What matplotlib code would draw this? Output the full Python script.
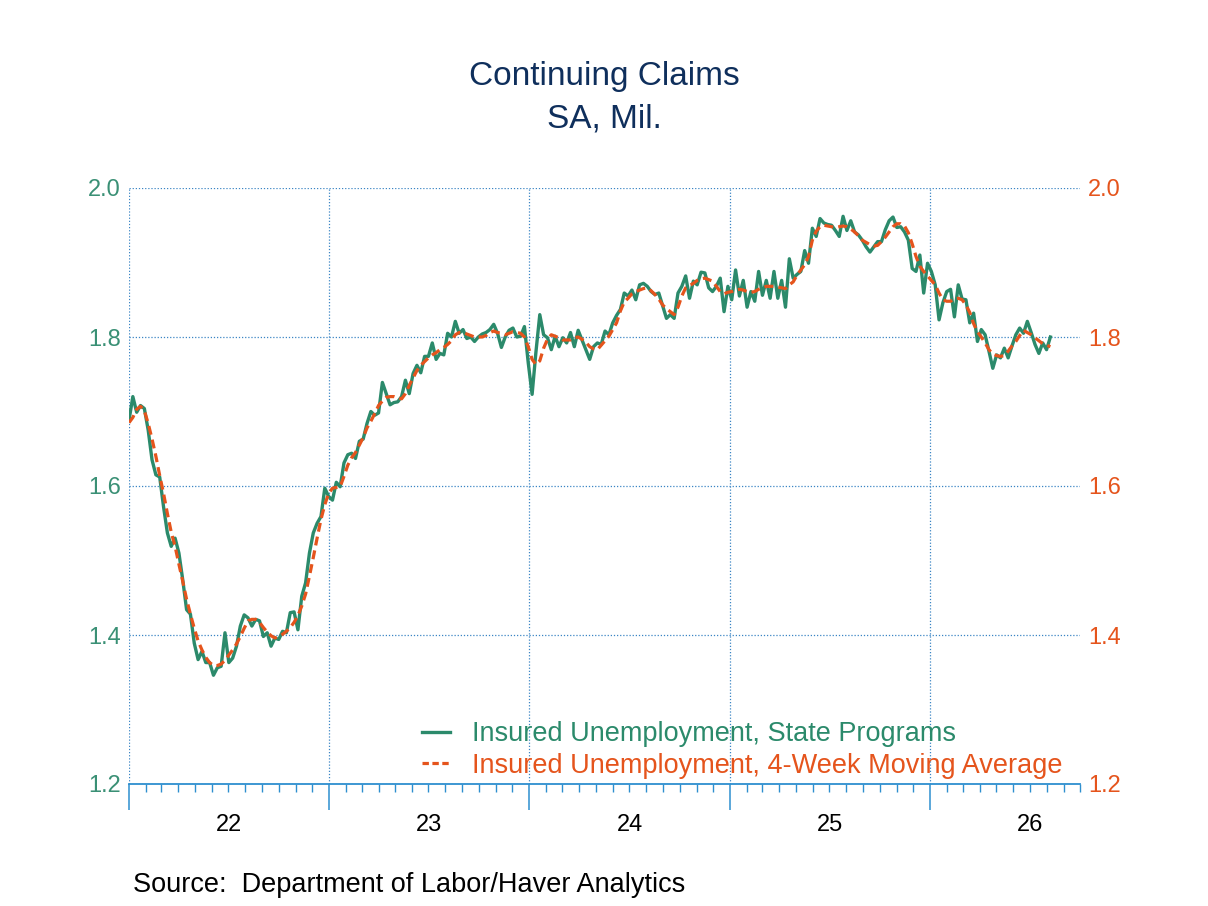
import matplotlib
matplotlib.use("Agg")
import matplotlib.pyplot as plt
import matplotlib.dates as mdates
from matplotlib.lines import Line2D
import pandas as pd

plt.rcParams["font.family"] = ["Liberation Sans", "DejaVu Sans"]

# weekly continuing claims, mil.
claims = [
    1.688, 1.720, 1.699, 1.708, 1.704, 1.675, 1.635, 1.615, 1.612, 1.572,
    1.537, 1.519, 1.530, 1.510, 1.474, 1.434, 1.428, 1.389, 1.367, 1.378,
    1.363, 1.363, 1.346, 1.356, 1.358, 1.403, 1.363, 1.369, 1.385, 1.412,
    1.427, 1.423, 1.412, 1.421, 1.419, 1.398, 1.403, 1.385, 1.396, 1.394,
    1.405, 1.403, 1.430, 1.431, 1.407, 1.452, 1.470, 1.510, 1.537, 1.550,
    1.559, 1.597, 1.586, 1.581, 1.605, 1.599, 1.631, 1.642, 1.644, 1.637,
    1.660, 1.663, 1.684, 1.700, 1.695, 1.698, 1.739, 1.724, 1.709, 1.712,
    1.713, 1.720, 1.742, 1.724, 1.751, 1.762, 1.752, 1.774, 1.774, 1.792,
    1.770, 1.778, 1.776, 1.805, 1.800, 1.821, 1.805, 1.810, 1.798, 1.800,
    1.794, 1.800, 1.804, 1.806, 1.810, 1.817, 1.805, 1.786, 1.800, 1.809,
    1.812, 1.800, 1.801, 1.814, 1.765, 1.723, 1.780, 1.830, 1.803, 1.799,
    1.783, 1.801, 1.787, 1.799, 1.792, 1.806, 1.787, 1.809, 1.796, 1.783,
    1.770, 1.787, 1.792, 1.790, 1.808, 1.803, 1.819, 1.829, 1.837, 1.859,
    1.855, 1.863, 1.850, 1.870, 1.872, 1.868, 1.861, 1.857, 1.859, 1.842,
    1.825, 1.830, 1.825, 1.859, 1.868, 1.882, 1.852, 1.875, 1.870, 1.887,
    1.886, 1.866, 1.861, 1.868, 1.879, 1.834, 1.868, 1.850, 1.890, 1.855,
    1.876, 1.840, 1.861, 1.848, 1.888, 1.856, 1.876, 1.852, 1.888, 1.852,
    1.876, 1.840, 1.905, 1.879, 1.884, 1.888, 1.916, 1.899, 1.946, 1.935,
    1.959, 1.953, 1.951, 1.950, 1.943, 1.935, 1.962, 1.943, 1.956, 1.941,
    1.937, 1.930, 1.921, 1.914, 1.921, 1.928, 1.928, 1.944, 1.956, 1.961,
    1.947, 1.948, 1.941, 1.930, 1.892, 1.888, 1.910, 1.859, 1.899, 1.888,
    1.870, 1.823, 1.846, 1.861, 1.864, 1.827, 1.870, 1.851, 1.850, 1.819,
    1.832, 1.794, 1.810, 1.803, 1.781, 1.758, 1.776, 1.772, 1.785, 1.772,
    1.788, 1.803, 1.812, 1.805, 1.821, 1.806, 1.790, 1.778, 1.792, 1.783, 1.800,
]

# 4-week moving average as drawn
avg4 = [
    1.685, 1.692, 1.703, 1.707, 1.701, 1.684, 1.663, 1.640, 1.614, 1.590,
    1.563, 1.538, 1.519, 1.495, 1.472, 1.448, 1.428, 1.409, 1.392, 1.380,
    1.370, 1.363, 1.359, 1.359, 1.361, 1.366, 1.373, 1.380, 1.388, 1.398,
    1.409, 1.419, 1.421, 1.421, 1.417, 1.410, 1.404, 1.399, 1.396, 1.398,
    1.401, 1.405, 1.410, 1.417, 1.426, 1.439, 1.455, 1.479, 1.504, 1.530,
    1.555, 1.575, 1.590, 1.597, 1.598, 1.599, 1.613, 1.628, 1.638, 1.645,
    1.655, 1.665, 1.678, 1.687, 1.697, 1.708, 1.714, 1.719, 1.720, 1.720,
    1.718, 1.717, 1.724, 1.735, 1.745, 1.755, 1.762, 1.767, 1.772, 1.776,
    1.779, 1.783, 1.786, 1.790, 1.795, 1.803, 1.806, 1.806, 1.804, 1.802,
    1.800, 1.800, 1.800, 1.802, 1.806, 1.808, 1.806, 1.805, 1.803, 1.805,
    1.807, 1.806, 1.805, 1.800, 1.787, 1.770, 1.763, 1.768, 1.785, 1.797,
    1.803, 1.801, 1.799, 1.796, 1.796, 1.796, 1.799, 1.800, 1.797, 1.793,
    1.787, 1.784, 1.783, 1.789, 1.795, 1.801, 1.810, 1.819, 1.835, 1.847,
    1.852, 1.858, 1.861, 1.863, 1.865, 1.866, 1.862, 1.857, 1.851, 1.843,
    1.838, 1.834, 1.830, 1.840, 1.855, 1.866, 1.869, 1.872, 1.876, 1.878,
    1.879, 1.877, 1.875, 1.868, 1.861, 1.858, 1.860, 1.861, 1.863, 1.864,
    1.863, 1.861, 1.860, 1.861, 1.864, 1.866, 1.868, 1.868, 1.868, 1.867,
    1.866, 1.865, 1.870, 1.874, 1.883, 1.890, 1.897, 1.908, 1.930, 1.942,
    1.948, 1.950, 1.949, 1.948, 1.947, 1.948, 1.949, 1.948, 1.945, 1.941,
    1.936, 1.930, 1.927, 1.924, 1.922, 1.923, 1.928, 1.934, 1.941, 1.948,
    1.952, 1.952, 1.949, 1.940, 1.925, 1.908, 1.895, 1.888, 1.882, 1.876,
    1.870, 1.859, 1.850, 1.848, 1.848, 1.851, 1.852, 1.850, 1.843, 1.833,
    1.818, 1.807, 1.800, 1.792, 1.783, 1.777, 1.775, 1.774, 1.775, 1.781,
    1.788, 1.794, 1.802, 1.809, 1.806, 1.803, 1.799, 1.795, 1.791, 1.789, 1.787,
]

dates = pd.date_range("2022-01-01", periods=len(claims), freq="7D")
year_labels = ["22", "23", "24", "25", "26"]
y_ticks = [1.2, 1.4, 1.6, 1.8, 2.0]

GREEN = "#2b8a6b"
GREEN_TXT = "#3a9075"
ORANGE = "#e5541c"
NAVY = "#0f2f5c"
GRID = "#3b85c4"
AXIS = "#2e8fcf"

fig = plt.figure(figsize=(12.08, 9.06), dpi=100)
ax = fig.add_axes([129 / 1208, 1 - 784 / 906, (1080 - 129) / 1208, (784 - 188) / 906])

ax.plot(dates, claims, color=GREEN, lw=2.4, zorder=3)
ax.plot(dates, avg4, color=ORANGE, lw=2.3, ls=(0, (2.8, 1.6)), zorder=4)

ax.set_xlim(pd.Timestamp("2022-01-01"), pd.Timestamp("2026-10-01"))
ax.set_ylim(1.2, 2.0)

ax.xaxis.set_major_locator(mdates.YearLocator())
ax.xaxis.set_minor_locator(mdates.MonthLocator())
ax.xaxis.set_major_formatter(plt.NullFormatter())
ax.tick_params(axis="x", which="major", direction="out", length=19, width=1.1, color=AXIS)
ax.tick_params(axis="x", which="minor", direction="out", length=6, width=1.0, color=AXIS)

for i, lab in enumerate(year_labels):
    mid = pd.Timestamp(f"{2022 + i}-07-02")
    ax.text(mdates.date2num(mid), -0.069, lab, transform=ax.get_xaxis_transform(),
            ha="center", va="center", fontsize=17, color="black")

ax.set_yticks(y_ticks)
ax.set_yticklabels([f"{v:.1f}" for v in y_ticks])
ax.tick_params(axis="y", length=0, pad=6, labelsize=17, labelcolor=GREEN_TXT,
               right=False, labelright=True)
for t in ax.yaxis.get_major_ticks():
    t.label2.set_color(ORANGE)

ax.grid(True, which="major", color=GRID, ls=(0, (1, 1.5)), lw=0.9)
for side in ["top", "right", "left"]:
    ax.spines[side].set_visible(False)
ax.spines["bottom"].set_color(AXIS)
ax.spines["bottom"].set_linewidth(1.3)

# legend proxies, dashes a bit finer so the sample shows three dashes
h1 = Line2D([], [], color=GREEN, lw=2.4)
h2 = Line2D([], [], color=ORANGE, lw=2.3, ls=(0, (2.0, 1.1)))
ax.legend([h1, h2],
          ["Insured Unemployment, State Programs",
           "Insured Unemployment, 4-Week Moving Average"],
          loc="upper left", frameon=False,
          bbox_to_anchor=(422 / 1208, 1 - 721 / 906), bbox_transform=fig.transFigure,
          borderaxespad=0, borderpad=0, fontsize=19.5, handlelength=1.05,
          handletextpad=0.8, labelspacing=0.22, labelcolor=[GREEN, ORANGE])

fig.text(604.5 / 1208, 1 - 85 / 906, "Continuing Claims", ha="center", va="baseline",
         fontsize=24, color=NAVY)
fig.text(604.5 / 1208, 1 - 128 / 906, "SA, Mil.", ha="center", va="baseline",
         fontsize=24, color=NAVY)
fig.text(133 / 1208, 1 - 892 / 906, "Source:  Department of Labor/Haver Analytics",
         ha="left", va="baseline", fontsize=19.5, color="black")

fig.savefig("out.png", dpi=100)
